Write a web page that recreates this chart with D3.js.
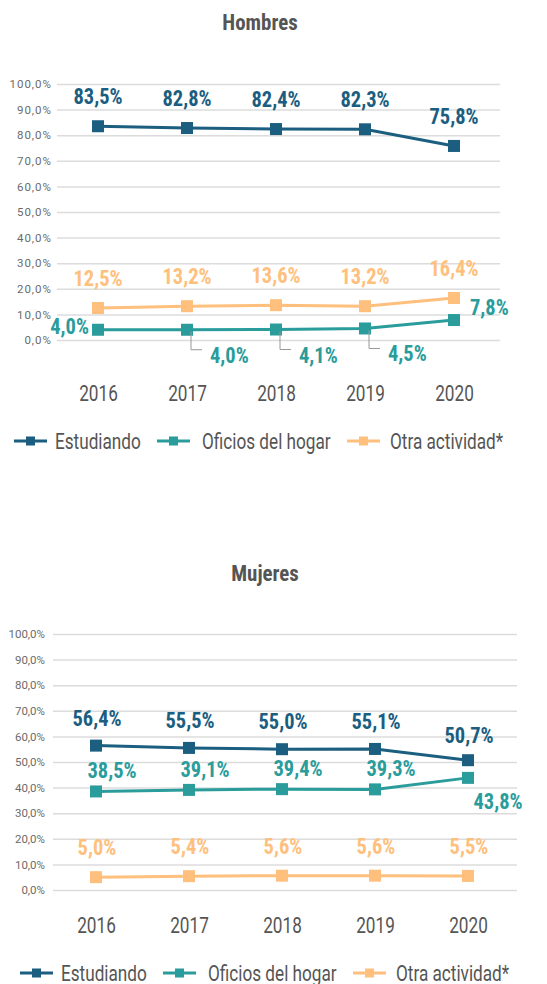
<!DOCTYPE html>
<html>
<head>
<meta charset="utf-8">
<script src="https://cdn.jsdelivr.net/npm/d3@7"></script>
<style>
  body { margin: 0; background: #fff; }
  text { font-family: "Roboto Condensed", Roboto, sans-serif; }
</style>
</head>
<body>
<div id="container"></div>
<script>
/* DATA */
const years = [2016, 2017, 2018, 2019, 2020];
const seriesNames = ["Estudiando", "Oficios del hogar", "Otra actividad*"];
const hombresEstudiando = [83.5, 82.8, 82.4, 82.3, 75.8];
const hombresOficios = [4.0, 4.0, 4.1, 4.5, 7.8];
const hombresOtra = [12.5, 13.2, 13.6, 13.2, 16.4];
const mujeresEstudiando = [56.4, 55.5, 55.0, 55.1, 50.7];
const mujeresOficios = [38.5, 39.1, 39.4, 39.3, 43.8];
const mujeresOtra = [5.0, 5.4, 5.6, 5.6, 5.5];
const yTicks = d3.range(0, 101, 10);

const colors = ["#1b5e7f", "#2a9c9b", "#fec07c"];
const grey = "#555";

const width = 547, height = 984;

const fmt = v => d3.format(".1f")(v).replace(".", ",") + "%";

// squeeze text a bit, the original uses a condensed face
function condense(sel, k) {
  sel.each(function () {
    const L = this.getComputedTextLength();
    d3.select(this).attr("textLength", L * k).attr("lengthAdjust", "spacingAndGlyphs");
  });
}

const svg = d3.select("#container")
  .append("svg")
  .attr("width", width)
  .attr("height", height);

// label placement per series (dx, dy from the point, anchor, optional leader)
const panels = [
  {
    title: "Hombres", titleX: 260, titleY: 30,
    xRange: [98, 454], yRange: [340, 84], gridLeft: 57, gridRight: 500,
    tickPad: 5, tickSpacing: "1px", yearY: 401,
    legendY: 441, legendX: [14, 157, 347],
    values: [hombresEstudiando, hombresOficios, hombresOtra],
    label: [
      i => ({ dx: 0, dy: -22, anchor: "middle" }),
      i => i === 0 ? { dx: -9, dy: 4, anchor: "end" }
        : i === 4 ? { dx: 16, dy: -5, anchor: "start" }
        : { dx: 23, dy: 33, anchor: "start", leader: true },
      i => ({ dx: 0, dy: -22, anchor: "middle" })
    ]
  },
  {
    title: "Mujeres", titleX: 265, titleY: 581,
    xRange: [96, 468], yRange: [890, 634], gridLeft: 53, gridRight: 517,
    tickPad: 8, tickSpacing: "0px", yearY: 933,
    legendY: 973, legendX: [20, 163, 353],
    values: [mujeresEstudiando, mujeresOficios, mujeresOtra],
    label: [
      i => ({ dx: 1, dy: i === 4 ? -17 : -20, anchor: "middle" }),
      i => i === 4 ? { dx: 30, dy: 31, anchor: "middle" } : { dx: 16, dy: -13, anchor: "middle" },
      i => ({ dx: 1, dy: -22, anchor: "middle" })
    ]
  }
];

panels.forEach(p => {
  const g = svg.append("g");

  const xScale = d3.scaleLinear().domain([2016, 2020]).range(p.xRange);
  const yScale = d3.scaleLinear().domain([0, 100]).range(p.yRange);

  // title
  g.append("text")
    .attr("x", p.titleX)
    .attr("y", p.titleY)
    .attr("text-anchor", "middle")
    .attr("font-weight", "bold")
    .attr("font-size", 22)
    .attr("fill", grey)
    .text(p.title)
    .call(condense, 0.95);

  // y axis + gridlines
  const yAxis = d3.axisLeft(yScale)
    .tickValues(yTicks)
    .tickFormat(d => fmt(d))
    .tickSize(-(p.gridRight - p.gridLeft))
    .tickPadding(p.tickPad);

  const yg = g.append("g")
    .attr("transform", `translate(${p.gridLeft},0)`)
    .call(yAxis);
  yg.select(".domain").remove();
  yg.selectAll(".tick line").attr("stroke", "#dcdcdc").attr("stroke-width", 1.5);
  yg.selectAll(".tick text")
    .attr("fill", "#6b6b6b")
    .attr("font-size", 11.5)
    .attr("letter-spacing", p.tickSpacing)
    .style("font-family", "Roboto, sans-serif");

  // x axis (years only)
  const xAxis = d3.axisBottom(xScale)
    .tickValues(years)
    .tickFormat(d3.format("d"))
    .tickSize(0);
  const xg = g.append("g")
    .attr("transform", `translate(0,${p.yearY})`)
    .call(xAxis);
  xg.select(".domain").remove();
  xg.selectAll(".tick text")
    .attr("y", 0).attr("dy", 0)
    .attr("fill", grey)
    .attr("font-size", 22)
    .style("font-family", "Roboto, sans-serif")
    .call(condense, 0.78);

  // lines and markers
  const lineGen = d3.line()
    .x((d, i) => xScale(years[i]))
    .y(d => yScale(d));

  p.values.forEach((vals, s) => {
    g.append("path")
      .datum(vals)
      .attr("fill", "none")
      .attr("stroke", colors[s])
      .attr("stroke-width", 3)
      .attr("d", lineGen);

    g.selectAll(".pt" + s)
      .data(vals)
      .join("rect")
      .attr("class", "pt" + s)
      .attr("x", (d, i) => xScale(years[i]) - 6)
      .attr("y", d => yScale(d) - 6)
      .attr("width", 12)
      .attr("height", 12)
      .attr("fill", colors[s]);
  });

  // value labels
  p.values.forEach((vals, s) => {
    vals.forEach((v, i) => {
      const px = xScale(years[i]), py = yScale(v);
      const L = p.label[s](i);
      if (L.leader) {
        g.append("path")
          .attr("d", `M${px + 4},${py + 2}V${py + 20}H${px + 15}`)
          .attr("fill", "none")
          .attr("stroke", "#999")
          .attr("stroke-width", 1);
      }
      g.append("text")
        .attr("x", px + L.dx)
        .attr("y", py + L.dy)
        .attr("text-anchor", L.anchor)
        .attr("font-weight", "bold")
        .attr("font-size", 22)
        .attr("fill", colors[s])
        .text(fmt(v))
        .call(condense, 0.93);
    });
  });

  // legend
  const leg = g.selectAll(".legend")
    .data(seriesNames)
    .join("g")
    .attr("transform", (d, i) => `translate(${p.legendX[i]},${p.legendY})`);
  leg.append("line")
    .attr("x1", 0).attr("x2", 33)
    .attr("stroke", (d, i) => colors[i])
    .attr("stroke-width", 3);
  leg.append("rect")
    .attr("x", 12).attr("y", -4.5)
    .attr("width", 9).attr("height", 9)
    .attr("fill", (d, i) => colors[i]);
  leg.append("text")
    .attr("x", (d, i) => [41, 45, 43][i])
    .attr("y", 7.5)
    .attr("font-size", 22)
    .attr("fill", grey)
    .style("font-family", "Roboto, sans-serif")
    .text(d => d)
    .call(condense, 0.78);
});
</script>
</body>
</html>
